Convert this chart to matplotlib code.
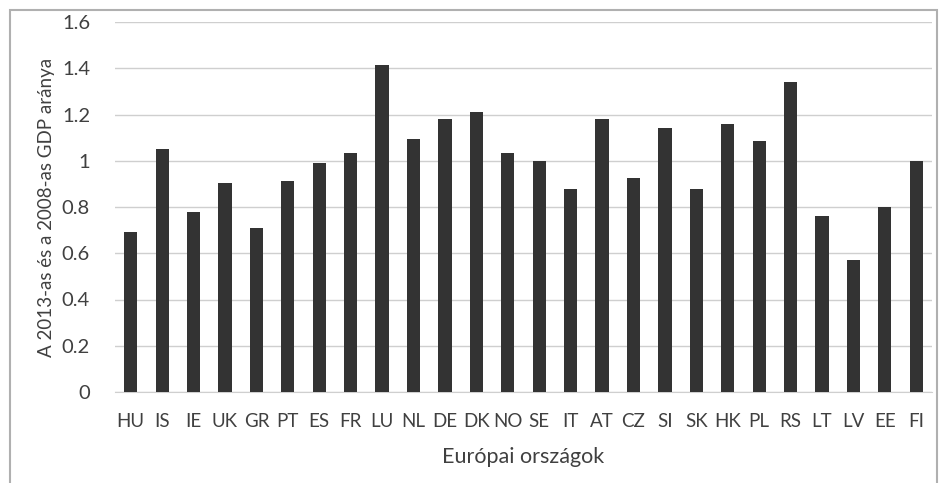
import matplotlib
matplotlib.use("Agg")
import matplotlib.pyplot as plt
from matplotlib.patches import Rectangle

countries = ["HU", "IS", "IE", "UK", "GR", "PT", "ES", "FR", "LU", "NL", "DE", "DK", "NO",
             "SE", "IT", "AT", "CZ", "SI", "SK", "HK", "PL", "RS", "LT", "LV", "EE", "FI"]
ratios = [0.69, 1.05, 0.78, 0.905, 0.71, 0.913, 0.99, 1.035, 1.415, 1.095, 1.18, 1.21, 1.035,
          1.0, 0.88, 1.18, 0.925, 1.14, 0.88, 1.16, 1.087, 1.34, 0.76, 0.57, 0.80, 1.0]
yticks = [0, 0.2, 0.4, 0.6, 0.8, 1.0, 1.2, 1.4, 1.6]
ytick_labels = ["0", "0.2", "0.4", "0.6", "0.8", "1", "1.2", "1.4", "1.6"]

plt.rcParams['font.family'] = ['Lato', 'DejaVu Sans']

fig = plt.figure(figsize=(9.4, 4.83), dpi=100)
ax = fig.add_axes([115/940, 1 - 392/483, (932 - 115)/940, (392 - 22)/483])

x = list(range(len(countries)))
ax.bar(x, ratios, width=0.42, color="#333333", zorder=3)
ax.set_xlim(-0.5, len(countries) - 0.5)
ax.set_ylim(0, 1.6)
ax.set_yticks(yticks)
ax.set_yticklabels(ytick_labels)
ax.set_xticks(x)
ax.set_xticklabels(countries)
ax.grid(axis="y", color="#cfcfcf", linewidth=1, zorder=0)
for s in ["top", "right", "left"]:
    ax.spines[s].set_visible(False)
ax.spines["bottom"].set_color("#cfcfcf")
ax.tick_params(axis="both", length=0, colors="#404040")
ax.tick_params(axis="x", pad=15, labelsize=13.5)
ax.tick_params(axis="y", pad=18, labelsize=14.5)
ax.set_xlabel("Európai országok", fontsize=15.5, color="#404040", labelpad=12)
ax.set_ylabel("A 2013-as és a 2008-as GDP aránya", fontsize=13.5, color="#404040", labelpad=5)

fig.patches.append(Rectangle((10/940, -0.05), (937 - 10)/940, 1.05 - 10/483,
                             transform=fig.transFigure, fill=False,
                             edgecolor="#b0b0b0", linewidth=1.5))

fig.savefig("out.png", dpi=100)
